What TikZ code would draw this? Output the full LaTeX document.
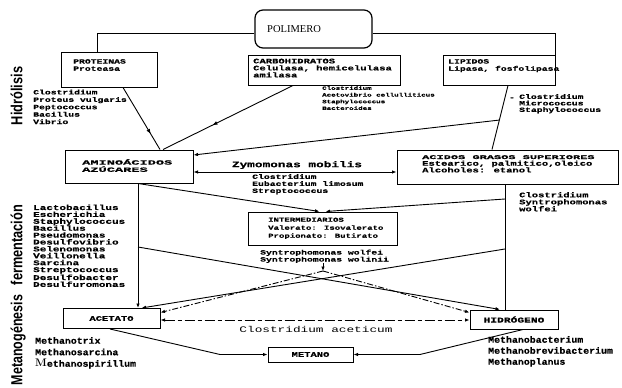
\documentclass[tikz,border=0pt]{standalone}
\usepackage{fontspec}
\usepackage{graphicx}
\usetikzlibrary{arrows.meta,decorations.markings,calc}
\newfontfamily\lbl{Liberation Mono}[FakeStretch=1.5, BoldFeatures={FakeBold=0.5}]
\newfontfamily\lblw{Liberation Mono}[FakeStretch=2.1, BoldFeatures={FakeBold=0.5}]
\newfontfamily\lblb{Liberation Mono}[FakeStretch=1.1, BoldFeatures={FakeBold=0.4}]
\newfontfamily\serf{Liberation Serif}
\newfontfamily\phasefont{Liberation Sans}
\tikzset{
  box/.style={draw, line width=1pt, inner sep=0pt},
  txt/.style={inner sep=0pt, align=left, anchor=north west, font=\lbl\bfseries\fontsize{6.5}{7.2}\selectfont},
  ctr/.style={inner sep=0pt, font=\lbl\bfseries\fontsize{6.5}{7.2}\selectfont},
  conn/.style={line width=0.9pt},
  arr/.style={conn, -{Latex[length=4.5pt,width=3.5pt]}},
  darr/.style={conn, {Latex[length=4.5pt,width=3.5pt]}-{Latex[length=4.5pt,width=3.5pt]}},
  midarr/.style={conn, postaction={decorate}, decoration={markings, mark=at position #1 with {\arrow{Latex[length=5pt,width=4pt]}}}},
  dd/.style={dash pattern=on 6pt off 2pt on 1.5pt off 2pt},
  phase/.style={rotate=90, anchor=base, inner sep=0pt, font=\phasefont\bfseries\fontsize{16}{16}\selectfont},
}
\begin{document}
\begin{tikzpicture}[x=1pt,y=-1pt]
\useasboundingbox (0,0) rectangle (622,388);
\fill[white] (0,0) rectangle (622,388);

% ---------- boxes ----------
\node[box, rounded corners=8pt, line width=1.2pt, minimum width=117pt, minimum height=38pt] (poly) at (313.5,29) {};
\node[box, minimum width=96pt, minimum height=35pt] (prot) at (109,69.5) {};
\node[box, minimum width=152pt, minimum height=30pt] (carb) at (324,70) {};
\node[box, minimum width=112pt, minimum height=30pt] (lip) at (499,70) {};
\node[box, minimum width=128pt, minimum height=33pt] (amino) at (129,166.5) {};
\node[box, minimum width=221pt, minimum height=34pt] (acid) at (507.5,167) {};
\node[box, minimum width=149pt, minimum height=33pt] (inter) at (322.5,228.5) {};
\node[box, minimum width=97pt, minimum height=20pt] (acet) at (111.5,318.5) {};
\node[box, minimum width=88pt, minimum height=19pt] (hid) at (514,319.5) {};
\node[box, minimum width=85pt, minimum height=15pt] (met) at (310.5,354.5) {};

% ---------- helper coordinates ----------
\coordinate (vx) at (138,0);
\coordinate (rx) at (505,0);
\coordinate (v1) at (amino.south -| vx);
\coordinate (v2) at (138,247);
\coordinate (r1) at (505,199);
\coordinate (r2) at (505,249);
\coordinate (sp) at (323,271);
\coordinate (spt) at (323,263);
\coordinate (zy) at (0,172);
\coordinate (ca) at (0,320);
\coordinate (mL) at (220,0);
\coordinate (mR) at (420,0);

% ---------- connectors ----------
\draw[conn] ([yshift=-4pt]poly.west) -| ([xshift=-12pt]prot.north);
\draw[conn] ([yshift=-4pt]poly.east) -| (lip.north east);
\draw[midarr=0.75] ([xshift=14pt]prot.south) -- ([xshift=31pt]amino.north);
\draw[midarr=0.62] ([xshift=-31pt]carb.south) -- ([xshift=34pt]amino.north);
\draw[conn] ([xshift=9pt]lip.south) -- coordinate[pos=0.54] (lb) ([xshift=-15.5pt]acid.north);
\draw[arr] (lb) -- ([yshift=11.5pt]amino.east);
\draw[darr] (amino.east |- zy) -- (acid.west |- zy);
\draw[arr] (v1) -- (acet.north -| vx);
\draw[conn] (acid.south -| rx) -- (hid.north -| rx);
\draw[arr] (v1) -- ([xshift=-3pt]inter.north);
\draw[arr] (r1) -- ([xshift=3pt]inter.north);
\draw[arr] (v2) -- ([xshift=-14pt]hid.north);
\draw[arr] (r2) -- ([xshift=30pt]acet.north);
\draw[arr] (spt) -- (sp);
\draw[arr, dd] (sp) -- ([yshift=6pt]acet.east);
\draw[arr, dd] (sp) -- ([yshift=7pt]hid.west);
\draw[darr, dash pattern=on 10pt off 3pt on 4pt off 3pt] (acet.east |- ca) -- (hid.west |- ca);
\draw[arr] ([xshift=-1.5pt]acet.south) -- (met.west -| mL) -- (met.west);
\draw[arr] ([xshift=9pt]hid.south) -- (met.east -| mR) -- (met.east);

% ---------- texts ----------
\node[inner sep=0pt, anchor=west, font=\serf\fontsize{10.5}{10.5}\selectfont] (polyT) at (267,29) {POLIMERO};
\node[txt] (protT) at (73,59) {PROTEINAS\\Proteasa};
\node[txt, font=\lbl\bfseries\fontsize{7}{7}\selectfont] (carbT) at (253,58.5) {CARBOHIDRATOS\\Celulasa, hemicelulasa\\amilasa};
\node[txt] (lipT) at (448,59) {LIPIDOS\\Lipasa, fosfolipasa};
\node[txt, font=\lbl\bfseries\fontsize{6.5}{7.4}\selectfont] (hydL) at (33,89.5) {Clostridium\\Proteus vulgaris\\Peptococcus\\Bacillus\\Vibrio};
\node[txt, font=\lbl\bfseries\fontsize{5}{6.7}\selectfont] (carbL) at (322,86) {Clostridium\\Acetovibrio cellulliticus\\Staphylococcus\\Bacteroides};
\node[ctr] (lipD) at (512,98.5) {-};
\node[txt, font=\lbl\bfseries\fontsize{6.5}{6.5}\selectfont] (lipL) at (519,94) {Clostridium\\Micrococcus\\Staphylococcus};
\node[txt, font=\lblw\bfseries\fontsize{6.5}{7.2}\selectfont] (aminoT) at (82,159) {AMINOÁCIDOS\\AZÚCARES};
\node[txt, font=\lbl\bfseries\fontsize{7}{6.7}\selectfont] (acidT) at (422,155) {{\lblw\fontsize{5.7}{6.7}\selectfont ACIDOS GRASOS SUPERIORES}\\Estearico, palmitico,oleico\\Alcoholes: etanol};
\node[ctr, font=\lbl\bfseries\fontsize{8.5}{8.5}\selectfont] (zymT) at (297,165) {Zymomonas mobilis};
\node[txt, font=\lbl\bfseries\fontsize{6.5}{7}\selectfont] (zymL) at (252,174) {Clostridium\\Eubacterium limosum\\Streptococcus};
\node[txt, font=\lbl\bfseries\fontsize{6}{8}\selectfont] (interT) at (268,217.5) {INTERMEDIARIOS\\Valerato: Isovalerato\\Propionato: Butirato};
\node[txt, font=\lbl\bfseries\fontsize{6.5}{7}\selectfont] (syntL) at (260,249.5) {Syntrophomonas wolfei\\Syntrophomonas wolinii};
\node[txt, font=\lbl\bfseries\fontsize{7.3}{6.9}\selectfont] (fermL) at (33,204.5) {Lactobacillus\\Escherichia\\Staphylococcus\\Bacillus\\Pseudomonas\\Desulfovibrio\\Selenomonas\\Veillonella\\Sarcina\\Streptococcus\\Desulfobacter\\Desulfuromonas};
\node[txt, font=\lbl\bfseries\fontsize{7}{7}\selectfont] (acidL) at (519,192) {Clostridium\\Syntrophomonas\\wolfei};
\node[ctr, font=\lbl\bfseries\fontsize{7}{7}\selectfont] (acetT) at (acet.center) {ACETATO};
\node[ctr, font=\lbl\bfseries\fontsize{7.5}{7.5}\selectfont] (hidT) at (hid.center) {HIDRÓGENO};
\node[ctr, font=\lbl\bfseries\fontsize{7}{7}\selectfont] (metT) at (met.center) {METANO};
\node[ctr, font=\lbl\fontsize{8.5}{8.5}\selectfont] (caT) at (316,329) {Clostridium aceticum};
\node[txt, font=\lblb\bfseries\fontsize{9}{11.5}\selectfont] (methL) at (35,337) {Methanotrix\\Methanosarcina\\{\rmfamily\fontsize{11}{11}\selectfont M}ethanospirillum};
\node[txt, font=\lblb\bfseries\fontsize{9}{11}\selectfont] (methR) at (488,336) {Methanobacterium\\Methanobrevibacterium\\Methanoplanus};

% ---------- phase labels ----------
\node[phase] (hidro) at (22.5,96) {\scalebox{0.8}[1]{Hidrólisis}};
\node[phase] (ferm) at (22.5,245) {\scalebox{0.8}[1]{fermentación}};
\node[phase] (metano) at (22.5,340) {\scalebox{0.78}[1]{Metanogénesis}};
\end{tikzpicture}
\end{document}
